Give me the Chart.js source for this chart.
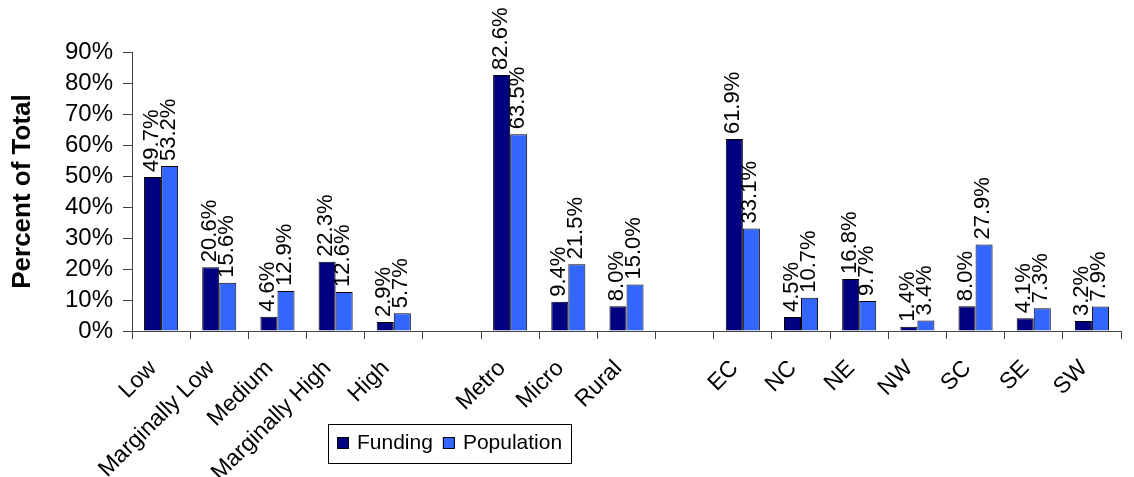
<!DOCTYPE html>
<html>
<head>
<meta charset="utf-8">
<script src="https://cdn.jsdelivr.net/npm/chart.js@4"></script>
<style>
html, body { margin: 0; padding: 0; background: #fff; }
</style>
</head>
<body>
<canvas id="chart" width="1134" height="477"></canvas>
<script>
const categories = ['Low', 'Marginally Low', 'Medium', 'Marginally High', 'High', '', 'Metro', 'Micro', 'Rural', '', 'EC', 'NC', 'NE', 'NW', 'SC', 'SE', 'SW'];
const funding = [49.7, 20.6, 4.6, 22.3, 2.9, null, 82.6, 9.4, 8.0, null, 61.9, 4.5, 16.8, 1.4, 8.0, 4.1, 3.2];
const population = [53.2, 15.6, 12.9, 12.6, 5.7, null, 63.5, 21.5, 15.0, null, 33.1, 10.7, 9.7, 3.4, 27.9, 7.3, 7.9];
const yTicks = [0, 10, 20, 30, 40, 50, 60, 70, 80, 90];

const FONT = '"Liberation Sans", Arial, sans-serif';
Chart.defaults.font.family = FONT;
Chart.defaults.color = '#000';

// value labels, written upwards above each bar
const valueLabels = {
    id: 'valueLabels',
    afterDatasetsDraw(chart) {
        const ctx = chart.ctx;
        ctx.save();
        ctx.font = '22px ' + FONT;
        ctx.fillStyle = '#000';
        ctx.textAlign = 'left';
        ctx.textBaseline = 'middle';
        chart.data.datasets.forEach((ds, i) => {
            chart.getDatasetMeta(i).data.forEach((bar, j) => {
                const v = ds.data[j];
                if (v == null) return;
                ctx.save();
                ctx.translate(bar.x - 1, bar.y - 5);
                ctx.rotate(-Math.PI / 2);
                ctx.fillText(v.toFixed(1) + '%', 0, 0);
                ctx.restore();
            });
        });
        ctx.restore();
    }
};

// boxed legend under the axis
const boxLegend = {
    id: 'boxLegend',
    afterDraw(chart) {
        const ctx = chart.ctx;
        const x0 = 328, y0 = 424, w = 243, h = 39;
        ctx.save();
        ctx.fillStyle = '#fff';
        ctx.fillRect(x0, y0, w, h);
        ctx.strokeStyle = '#000';
        ctx.lineWidth = 1;
        ctx.strokeRect(x0 + 0.5, y0 + 0.5, w, h);
        ctx.font = '21px ' + FONT;
        ctx.textBaseline = 'middle';
        ctx.textAlign = 'left';
        let x = x0 + 9;
        const cy = y0 + 19;
        chart.data.datasets.forEach(ds => {
            ctx.fillStyle = ds.backgroundColor;
            ctx.fillRect(x, cy - 6, 12, 12);
            ctx.strokeRect(x + 0.5, cy - 5.5, 11, 11);
            ctx.fillStyle = '#000';
            ctx.fillText(ds.label, x + 20, cy);
            x += 20 + ctx.measureText(ds.label).width + 10;
        });
        ctx.restore();
    }
};

new Chart(document.getElementById('chart').getContext('2d'), {
    type: 'bar',
    data: {
        labels: categories,
        datasets: [{
            label: 'Funding',
            data: funding,
            backgroundColor: '#000080',
            borderColor: '#000',
            borderWidth: 1
        }, {
            label: 'Population',
            data: population,
            backgroundColor: '#3366FF',
            borderColor: '#000',
            borderWidth: 1
        }]
    },
    options: {
        responsive: false,
        animation: false,
        layout: { padding: { top: 52, right: 13, left: 0, bottom: 0 } },
        datasets: { bar: { categoryPercentage: 0.586, barPercentage: 1.0 } },
        plugins: {
            legend: { display: false },
            tooltip: { enabled: false }
        },
        scales: {
            x: {
                grid: { drawOnChartArea: false, drawTicks: true, tickLength: 8, color: '#444' },
                border: { color: '#444' },
                ticks: {
                    autoSkip: false,
                    maxRotation: 45,
                    minRotation: 45,
                    padding: 16,
                    labelOffset: -8,
                    font: { size: 23 }
                },
                afterFit(s) { s.height = 146; }
            },
            y: {
                min: 0,
                max: 90,
                afterBuildTicks(s) { s.ticks = yTicks.map(v => ({ value: v })); },
                grid: { drawOnChartArea: false, drawTicks: true, tickLength: 9, color: '#444' },
                border: { color: '#444' },
                ticks: {
                    autoSkip: false,
                    padding: 10,
                    font: { size: 24 },
                    callback: v => v + '%'
                },
                title: {
                    display: true,
                    text: 'Percent of Total',
                    font: { size: 26, weight: 'bold' },
                    padding: { top: 7, bottom: 0 }
                },
                afterFit(s) { s.width = 132; }
            }
        }
    },
    plugins: [valueLabels, boxLegend]
});
</script>
</body>
</html>
